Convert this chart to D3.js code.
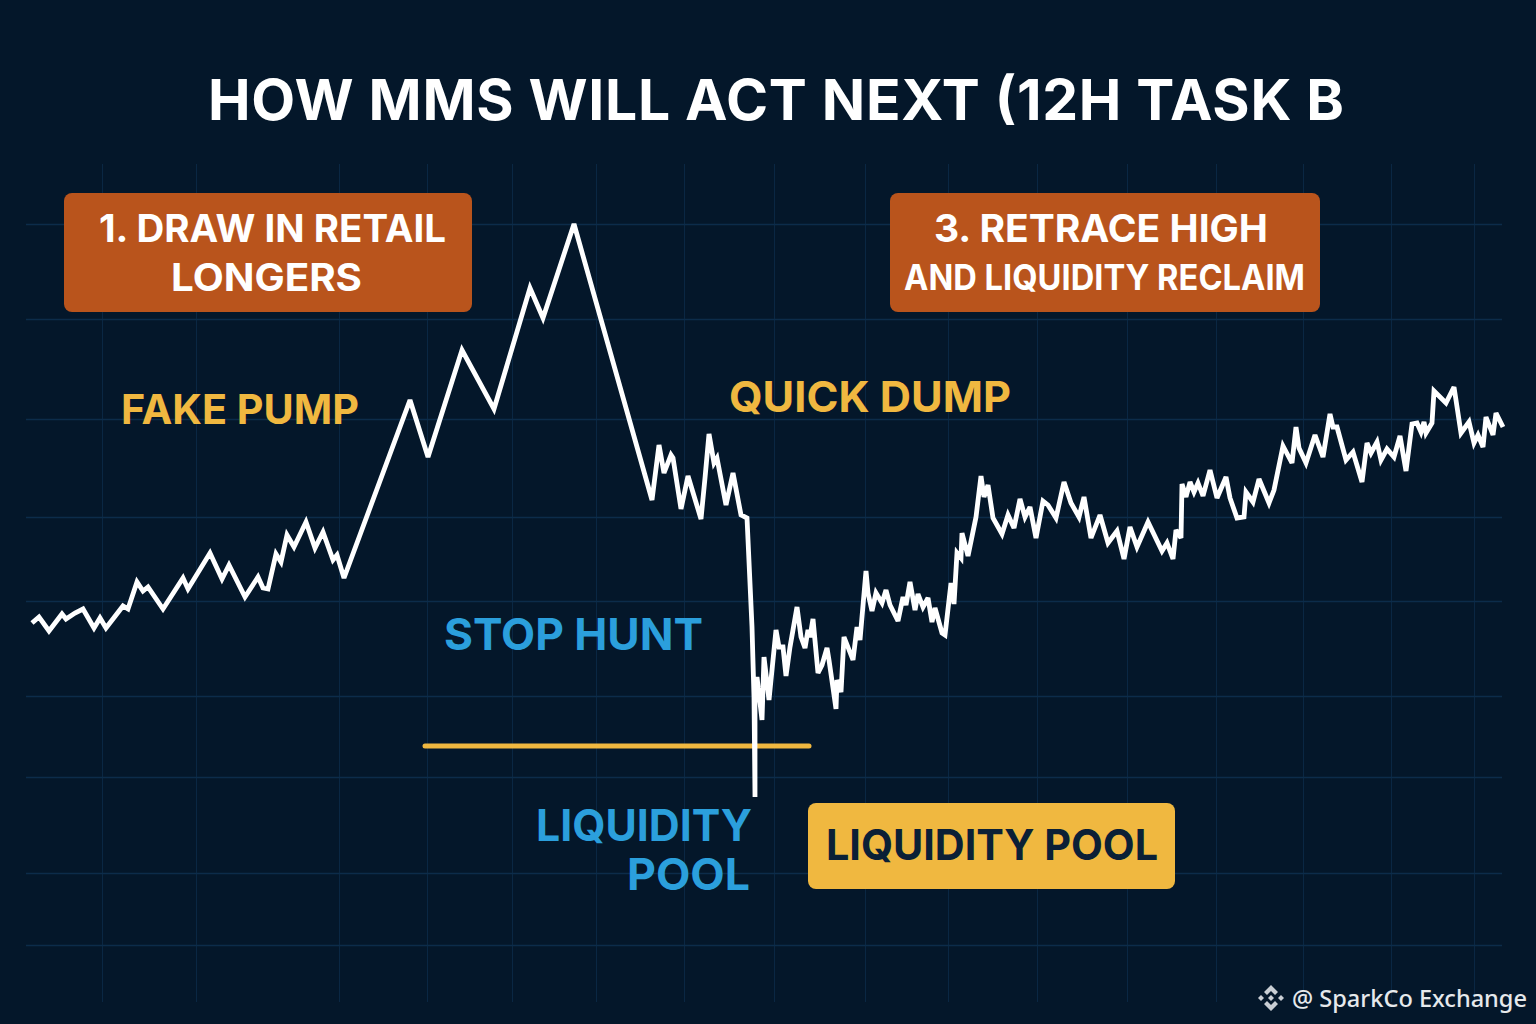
<!DOCTYPE html>
<html>
<head>
<meta charset="utf-8">
<script src="https://cdn.jsdelivr.net/npm/d3@7"></script>
<style>
html, body { margin: 0; padding: 0; background: #04172a; }
svg { display: block; }
</style>
</head>
<body>
<div id="chart"></div>
<script>
// values, nominal units
const times = [32,39,49,62,66,75,83,94,100,106,123,128,137,143,148,163,183,188,210,222,229,245,258,263,268,276,281,287,294,306,315,323,333,337,344,
  410,428,462,494,530,543,574,652,
  659,664,671,673,681,688,701,705,709,714,717,726,733,741,747,752,754,755,755,757,762,764,769,776,779,783,786,790,797,801,805,808,810,813,818,822,827,829,836,837,841,844,853,857,860,866,868,872,876,882,886,890,898,903,906,910,915,918,923,928,932,935,942,945,951,954,957,961,962,968,
  976,981,984,988,993,1002,1008,1014,1020,1025,1030,1036,1043,1048,1056,1064,1071,1079,1084,1091,1100,1108,1117,1124,1130,1137,1148,1162,1167,1173,1176,1181,1182,1186,1190,1194,1198,1203,1210,1217,1226,1230,1237,1244,1246,1253,1259,1269,1274,1283,1292,1296,1299,1306,1315,1323,1330,1333,1337,1346,1353,1362,1367,1371,1377,1381,1387,1394,1400,1406,1412,1417,1421,1424,1426,1432,1434,1446,1454,1461,1469,1474,1478,1483,1486,1493,1496,1503];
const prices = [401,407,393,410,405,411,415,396,406,396,418,415,442,433,437,415,446,435,471,445,459,427,447,436,435,470,462,489,477,502,476,492,464,469,446,
  624,567,674,615,736,706,800,524,
  579,551,569,566,515,548,505,546,590,561,566,519,551,509,506,397,327,227,321,347,304,367,324,394,377,377,348,377,417,387,376,394,387,405,351,359,376,364,315,344,332,387,364,397,384,453,431,413,431,421,434,419,403,427,419,442,414,430,417,426,402,416,391,389,441,420,471,466,491,468,
  507,548,527,539,506,490,509,496,525,507,517,486,523,519,506,542,521,507,527,486,509,481,493,465,497,477,502,473,481,465,494,486,540,527,542,532,541,528,554,526,547,526,506,507,532,522,545,521,534,578,561,597,576,561,589,567,610,597,597,564,572,542,581,571,582,564,575,567,588,553,600,601,592,602,591,601,633,621,637,591,602,581,589,577,607,589,611,597];

const gridTimes = [102,196,339,427,512,596,684,774,865,948,1037,1127,1216,1303,1391,1474];
const gridPrices = [800,705,605,507,423,328,247,151,79];

const liquidityLevel = 278;
const liquidityFrom = 425;
const liquidityTo = 809;

const titleText = "HOW MMS WILL ACT NEXT (12H TASK B";
const box1Lines = ["1. DRAW IN RETAIL", "LONGERS"];
const box3Lines = ["3. RETRACE HIGH", "AND LIQUIDITY RECLAIM"];
const poolBoxText = "LIQUIDITY POOL";
const watermark = "@ SparkCo Exchange";

const width = 1536, height = 1024;
const bg = "#04172a", gridColor = "#0c2c4a", orange = "#b9541c", gold = "#f0b840", blue = "#2b9fdc";

const svg = d3.select("#chart").append("svg")
  .attr("width", width)
  .attr("height", height);

const x = d3.scaleLinear().domain([0, 1536]).range([0, width]);
const y = d3.scaleLinear().domain([0, 1024]).range([height, 0]);

svg.append("rect").attr("width", width).attr("height", height).attr("fill", bg);

// grid, drawn with axes
const gridX = svg.append("g")
  .attr("transform", "translate(0,1002)")
  .call(d3.axisBottom(x).tickValues(gridTimes).tickSize(-838).tickFormat(""));
const gridY = svg.append("g")
  .attr("transform", "translate(26,0)")
  .call(d3.axisLeft(y).tickValues(gridPrices).tickSize(-1476).tickFormat(""));
svg.selectAll(".domain").remove();
gridX.selectAll("line").attr("stroke", gridColor).attr("stroke-width", 1).attr("opacity", 0.8);
gridY.selectAll("line").attr("stroke", gridColor).attr("stroke-width", 1.5);

// text squeezed to the measured width
function label(t, x0, x1, base, size, fill, weight, family, adjust) {
  return svg.append("text")
    .attr("x", x0)
    .attr("y", base)
    .attr("textLength", x1 - x0)
    .attr("lengthAdjust", adjust || "spacingAndGlyphs")
    .attr("font-family", family || "Inter")
    .attr("font-weight", weight || 700)
    .attr("font-size", size)
    .attr("fill", fill)
    .text(t);
}

function box(x0, x1, y0, y1, fill) {
  svg.append("rect")
    .attr("x", x0).attr("y", y0)
    .attr("width", x1 - x0).attr("height", y1 - y0)
    .attr("rx", 8)
    .attr("fill", fill);
}

label(titleText, 208, 1344, 120, 57, "#ffffff", 700, "Inter", "spacing");

box(64, 472, 193, 312, orange);
label(box1Lines[0], 99, 446, 242, 38, "#ffffff");
label(box1Lines[1], 171, 362, 291, 38, "#ffffff");

box(890, 1320, 193, 312, orange);
label(box3Lines[0], 934, 1268, 242, 38, "#ffffff");
label(box3Lines[1], 904, 1305, 290, 35, "#ffffff");

label("FAKE PUMP", 121, 359, 424, 41, gold);
label("QUICK DUMP", 729, 1011, 412, 43, gold);
label("STOP HUNT", 444, 703, 650, 44, blue);
label("LIQUIDITY", 536, 752, 841, 44, blue);
label("POOL", 627, 750, 890, 44, blue);

// liquidity level
svg.append("line")
  .attr("x1", x(liquidityFrom)).attr("x2", x(liquidityTo))
  .attr("y1", y(liquidityLevel)).attr("y2", y(liquidityLevel))
  .attr("stroke", gold)
  .attr("stroke-width", 5)
  .attr("stroke-linecap", "round");

// price line
const line = d3.line()
  .x(function(d) { return x(d[0]); })
  .y(function(d) { return y(d[1]); });

svg.append("path")
  .datum(d3.zip(times, prices))
  .attr("d", line)
  .attr("fill", "none")
  .attr("stroke", "#ffffff")
  .attr("stroke-width", 4.8)
  .attr("stroke-linejoin", "miter")
  .attr("stroke-miterlimit", 3);

box(808, 1175, 803, 889, gold);
label(poolBoxText, 826, 1158, 860, 43, "#0b2036");

// watermark and logo
const logo = svg.append("g").attr("transform", "translate(1271,998)").attr("fill", "#c9ced4");
const chevron = "M0,-13L7,-6L4,-3L0,-7L-4,-3L-7,-6Z";
logo.append("path").attr("d", chevron);
logo.append("path").attr("d", chevron).attr("transform", "rotate(180)");
const dia = "M0,-3L3,0L0,3L-3,0Z";
logo.append("path").attr("d", dia);
logo.append("path").attr("d", dia).attr("transform", "translate(-10,0)");
logo.append("path").attr("d", dia).attr("transform", "translate(10,0)");

label(watermark, 1292, 1527, 1007, 24, "#e6e9ec", 500, "Noto Sans");
</script>
</body>
</html>
